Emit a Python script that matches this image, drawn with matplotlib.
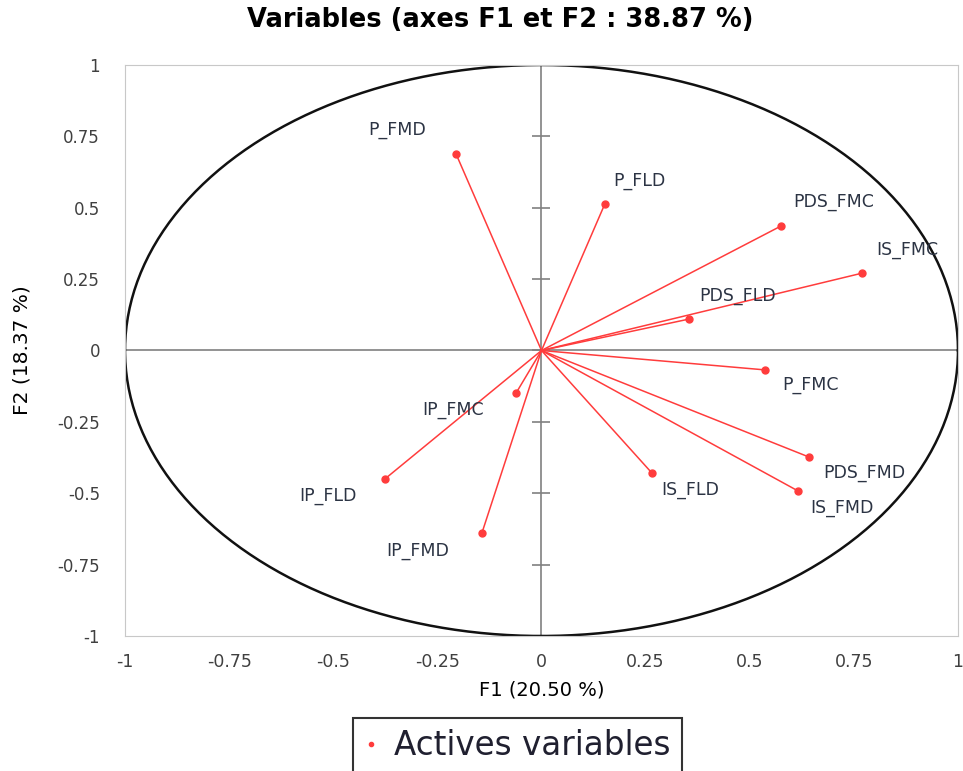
import matplotlib.pyplot as plt
import numpy as np

# correlation circle (PCA variables, axes F1 and F2)
names = ['P_FMD', 'P_FLD', 'PDS_FMC', 'IS_FMC', 'PDS_FLD', 'P_FMC',
         'PDS_FMD', 'IS_FMD', 'IS_FLD', 'IP_FMC', 'IP_FLD', 'IP_FMD']
f1 = [-0.205, 0.152, 0.575, 0.770, 0.354, 0.537,
      0.642, 0.616, 0.265, -0.061, -0.376, -0.143]
f2 = [0.688, 0.513, 0.436, 0.271, 0.110, -0.068,
      -0.373, -0.492, -0.429, -0.149, -0.450, -0.639]
ticks = [-1, -0.75, -0.5, -0.25, 0, 0.25, 0.5, 0.75, 1]
tick_labels = ['-1', '-0.75', '-0.5', '-0.25', '0', '0.25', '0.5', '0.75', '1']

# label offsets in pixels (dx, dy up)
offsets = [(-59, 24), (35, 23), (53, 24), (45, 23), (49, 23), (45, -15),
           (55, -16), (44, -17), (38, -17), (-63, -17), (-57, -17), (-64, -18)]

red = '#ff3c3c'

fig = plt.figure(figsize=(9.63, 7.71), dpi=100)
ax = fig.add_axes([0.1298, 0.1751, 0.865, 0.7406])

t = np.linspace(0, 2 * np.pi, 400)
ax.plot(np.cos(t), np.sin(t), color='#111111', lw=1.8, zorder=2)
ax.axhline(0, color='#808080', lw=1.2, zorder=1)
ax.axvline(0, color='#808080', lw=1.2, zorder=1)
# cross ticks on the vertical line
ax.plot([0] * len(ticks), ticks, ls='none', marker='_', ms=13,
        mew=1.2, color='#808080', zorder=1)

for x, y in zip(f1, f2):
    ax.plot([0, x], [0, y], color=red, lw=1.1, zorder=3)
ax.plot(f1, f2, 'o', color=red, ms=5, zorder=4, label='Actives variables')

for n, x, y, (dx, dy) in zip(names, f1, f2, offsets):
    ax.annotate(n, (x, y), xytext=(dx, dy), textcoords='offset pixels',
                ha='center', va='center', fontsize=12.5, color='#2c3444')

ax.set_xlim(-1, 1)
ax.set_ylim(-1, 1)
ax.set_xticks(ticks)
ax.set_xticklabels(tick_labels, fontsize=12.5, color='#404040')
ax.set_yticks(ticks)
ax.set_yticklabels(tick_labels, fontsize=12, color='#404040')
ax.tick_params(axis='x', length=0, pad=12)
ax.tick_params(axis='y', length=0, pad=18)
for s in ax.spines.values():
    s.set_color('#c8c8c8')

ax.set_xlabel('F1 (20.50 %)', fontsize=14, va='center')
ax.xaxis.set_label_coords(0.5, -0.0946)
ax.set_ylabel('F2 (18.37 %)', fontsize=14.5, va='center')
ax.yaxis.set_label_coords(-0.124, 0.5)
fig.suptitle('Variables (axes F1 et F2 : 38.87 %)', fontweight='bold',
             fontsize=18.5, x=0.519, y=0.974, va='center')

h, l = ax.get_legend_handles_labels()
leg = fig.legend([plt.Line2D([], [], ls='none', marker='o', ms=3, color=red)], l,
                 loc='upper center', bbox_to_anchor=(0.5374, 0.0687), fontsize=23.5,
                 frameon=True, fancybox=False, edgecolor='black',
                 handlelength=0.4, handletextpad=0.5, borderpad=0.35,
                 borderaxespad=0)
leg.get_frame().set_linewidth(1.5)
for txt in leg.get_texts():
    txt.set_color('#202030')

fig.savefig('out.png', dpi=100)
